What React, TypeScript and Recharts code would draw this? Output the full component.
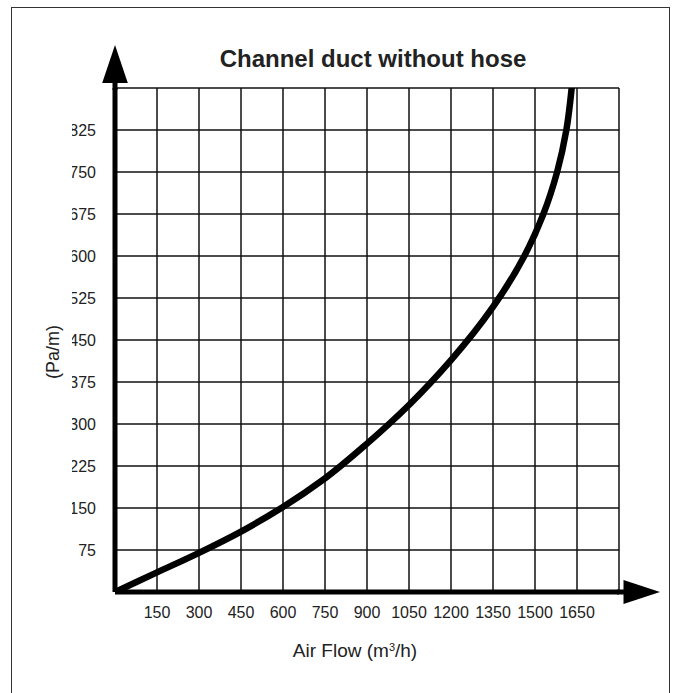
import React from 'react';
import { LineChart, Line, XAxis, YAxis, CartesianGrid, ReferenceDot } from 'recharts';

const airflow = [0, 150, 300, 450, 600, 750, 900, 1050, 1200, 1350, 1462, 1530, 1579, 1612, 1631];
const pressure = [0, 35, 70, 108, 152, 203, 265, 334, 414, 509, 600, 675, 750, 825, 900];

const xTicks = [0, 150, 300, 450, 600, 750, 900, 1050, 1200, 1350, 1500, 1650, 1800];
const xLabelled = [150, 300, 450, 600, 750, 900, 1050, 1200, 1350, 1500, 1650];
const yTicks = [0, 75, 150, 225, 300, 375, 450, 525, 600, 675, 750, 825, 900];
const yLabelled = [75, 150, 225, 300, 375, 450, 525, 600, 675, 750, 825];

const title = 'Channel duct without hose';
const xTitle = 'Air Flow (m';
const xTitleSup = '3';
const xTitleEnd = '/h)';
const yTitle = '(Pa/m)';

const data = airflow.map((x, i) => ({ x, y: pressure[i] }));

const FONT = '"Liberation Sans", Arial, sans-serif';

const XTick = (props: any) => {
  const { x, y, payload } = props;
  if (!xLabelled.includes(payload.value)) return null;
  return (
    <text x={x} y={y} dy={26.3} textAnchor="middle" fontSize={16} fill="#222" fontFamily={FONT}>
      {payload.value}
    </text>
  );
};

const YTick = (props: any) => {
  const { x, y, payload, index } = props;
  if (!yLabelled.includes(payload.value)) return null;
  const id = `yclip-${index}`;
  return (
    <g>
      <defs>
        <clipPath id={id}>
          <rect x={72} y={y - 20} width={60} height={40} />
        </clipPath>
      </defs>
      <text x={x} y={y} dy={5.7} textAnchor="end" fontSize={16} fill="#222" fontFamily={FONT} clipPath={`url(#${id})`}>
        {payload.value}
      </text>
    </g>
  );
};

const UpArrow = (props: any) => {
  const { cx, cy } = props;
  return (
    <g>
      <rect x={cx - 2.5} y={cy - 6} width={5} height={8} fill="#000" />
      <polygon points={`${cx},${cy - 43} ${cx - 12.8},${cy - 5} ${cx + 12.8},${cy - 5}`} fill="#000" />
    </g>
  );
};

const RightArrow = (props: any) => {
  const { cx, cy } = props;
  return (
    <g>
      <rect x={cx - 2} y={cy - 2.5} width={8} height={5} fill="#000" />
      <polygon points={`${cx + 4.5},${cy - 12} ${cx + 4.5},${cy + 12} ${cx + 41},${cy}`} fill="#000" />
    </g>
  );
};

export default function App() {
  return (
    <div style={{ position: 'absolute', left: 0, top: 0, width: 675, height: 693, overflow: 'hidden', background: '#fff' }}>
      <div
        style={{
          position: 'absolute',
          left: 11,
          top: 7,
          width: 657,
          height: 800,
          border: '1px solid #333',
          boxSizing: 'content-box',
        }}
      />
      <div style={{ position: 'absolute', left: 0, top: 0 }}>
        <LineChart width={675} height={693} data={data} margin={{ top: 88, right: 56, bottom: 61, left: 55 }}>
          <CartesianGrid stroke="#111" strokeWidth={1.5} />
          <XAxis
            dataKey="x"
            type="number"
            domain={[0, 1800]}
            ticks={xTicks}
            interval={0}
            height={40}
            tickSize={0}
            tickMargin={0}
            tickLine={false}
            axisLine={{ stroke: '#000', strokeWidth: 5 }}
            tick={<XTick />}
            allowDataOverflow
          />
          <YAxis
            dataKey="y"
            type="number"
            domain={[0, 900]}
            ticks={yTicks}
            interval={0}
            width={60}
            tickSize={0}
            tickMargin={19}
            tickLine={false}
            axisLine={{ stroke: '#000', strokeWidth: 5 }}
            tick={<YTick />}
            allowDataOverflow
          />
          <Line
            type="monotoneY"
            dataKey="y"
            stroke="#000"
            strokeWidth={6.5}
            strokeLinecap="round"
            strokeLinejoin="round"
            dot={false}
            activeDot={false}
            isAnimationActive={false}
          />
          <ReferenceDot x={0} y={900} ifOverflow="visible" shape={<UpArrow />} />
          <ReferenceDot x={1800} y={0} ifOverflow="visible" shape={<RightArrow />} />
        </LineChart>
      </div>
      <div
        style={{
          position: 'absolute',
          left: 373,
          top: 47,
          transform: 'translateX(-50%)',
          whiteSpace: 'nowrap',
          fontFamily: FONT,
          fontWeight: 'bold',
          fontSize: 24,
          lineHeight: '24px',
          color: '#222',
        }}
      >
        {title}
      </div>
      <div
        style={{
          position: 'absolute',
          left: 355,
          top: 641,
          transform: 'translateX(-50%)',
          whiteSpace: 'nowrap',
          fontFamily: FONT,
          fontSize: 19,
          lineHeight: '19px',
          color: '#222',
        }}
      >
        {xTitle}
        <sup style={{ fontSize: 11, lineHeight: 0, verticalAlign: '0.55em' }}>{xTitleSup}</sup>
        {xTitleEnd}
      </div>
      <div
        style={{
          position: 'absolute',
          left: 52.5,
          top: 351.5,
          transform: 'translate(-50%, -50%) rotate(-90deg)',
          whiteSpace: 'nowrap',
          fontFamily: FONT,
          fontSize: 18,
          lineHeight: '18px',
          color: '#222',
        }}
      >
        {yTitle}
      </div>
    </div>
  );
}
